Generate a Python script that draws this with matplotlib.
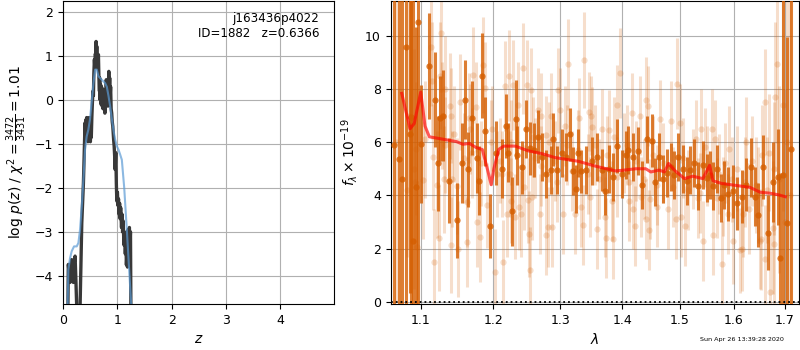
"""Redshift fit summary: p(z) panel and G141 spectrum with best-fit model."""

import matplotlib
matplotlib.use("Agg")
import matplotlib.pyplot as plt
from matplotlib.ticker import FixedLocator, FixedFormatter, NullLocator

# ---- p(z) panel -------------------------------------------------------------
pz_z = [0.085, 0.103, 0.118, 0.134, 0.150, 0.165, 0.180, 0.196, 0.212, 0.227,
        0.242, 0.257, 0.270, 0.320, 0.350, 0.380, 0.410, 0.418, 0.425, 0.433,
        0.440, 0.448, 0.455, 0.463, 0.470, 0.478, 0.485, 0.493, 0.500, 0.508,
        0.515, 0.525, 0.535, 0.545, 0.555, 0.564, 0.572, 0.582, 0.590, 0.600,
        0.607, 0.613, 0.620, 0.626, 0.633, 0.640, 0.648, 0.656, 0.665, 0.675,
        0.680, 0.687, 0.695, 0.705, 0.712, 0.724, 0.732, 0.740, 0.748, 0.757,
        0.766, 0.775, 0.782, 0.790, 0.800, 0.810, 0.820, 0.830, 0.838, 0.847,
        0.855, 0.863, 0.871, 0.880, 0.890, 0.900, 0.910, 0.920, 0.935, 0.945,
        0.955, 0.963, 0.975, 0.985, 0.994, 1.005, 1.015, 1.025, 1.035, 1.045,
        1.055, 1.065, 1.080, 1.090, 1.100, 1.110, 1.125, 1.135, 1.150, 1.160,
        1.170, 1.180, 1.190, 1.200, 1.215, 1.225, 1.235, 1.245, 1.252, 1.270]
pz_logp = [-6.0, -3.74, -3.95, -4.15, -3.75, -3.63, -3.90, -4.15, -3.70, -3.55,
           -4.10, -4.70, -6.0, -4.64, -2.80, -1.90, -0.52, -0.90, -0.45, -0.75,
           -0.40, -0.85, -0.50, -0.95, -0.60, -0.90, -0.40, -0.75, -0.50, -0.95,
           -0.70, -0.85, -0.40, -0.07, 0.20, 0.10, 0.60, 0.92, 0.75, 1.05,
           0.90, 1.33, 1.00, 1.22, 0.85, 1.00, 0.70, 1.03, 0.50, 0.20,
           0.50, 0.00, 0.35, -0.10, 0.30, -0.14, 0.25, -0.20, 0.23, -0.15,
           0.10, -0.30, 0.20, -0.10, 0.46, 0.00, 0.40, -0.14, 0.30, 0.65,
           0.20, 0.50, 0.08, 0.30, -0.20, -0.30, -0.50, -0.60, -0.90, -1.05,
           -1.30, -1.58, -1.20, -1.90, -2.30, -2.10, -2.40, -2.25, -2.60, -2.35,
           -2.70, -2.45, -2.90, -2.60, -3.00, -2.75, -3.30, -3.00, -3.50, -3.20,
           -3.75, -3.50, -3.80, -2.95, -3.10, -2.90, -3.30, -3.00, -4.64, -6.0]

prior_z = [0.090, 0.103, 0.134, 0.165, 0.208, 0.257, 0.288, 0.318, 0.350, 0.380,
           0.410, 0.440, 0.470, 0.500, 0.530, 0.564, 0.595, 0.626, 0.656, 0.687,
           0.717, 0.748, 0.780, 0.810, 0.840, 0.871, 0.900, 0.932, 0.963, 0.994,
           1.025, 1.055, 1.086, 1.130, 1.180, 1.227, 1.270]
prior_logp = [-4.70, -3.86, -3.60, -3.44, -3.33, -3.33, -3.25, -2.95, -2.42, -1.81,
              -1.13, -0.83, -0.68, -0.45, -0.07, 0.38, 0.69, 0.69, 0.54, 0.50,
              0.46, 0.42, 0.38, 0.30, 0.10, -0.14, -0.41, -0.68, -0.90, -1.05,
              -1.13, -1.24, -1.36, -2.00, -3.00, -4.00, -4.90]

# ---- spectrum panel ---------------------------------------------------------
wave = [1.0658, 1.0722, 1.0761, 1.0804, 1.0860, 1.0868, 1.0899, 1.0938, 1.0961,
        1.1000, 1.1110, 1.1190, 1.1234, 1.1257, 1.1301, 1.1383, 1.1493, 1.1553,
        1.1599, 1.1645, 1.1692, 1.1762, 1.1799, 1.1841, 1.1879, 1.1950, 1.2033,
        1.2120, 1.2178, 1.2216, 1.2274, 1.2324, 1.2348, 1.2413, 1.2477, 1.2537,
        1.2597, 1.2662, 1.2714, 1.2779, 1.2851, 1.2891, 1.2953, 1.3021, 1.3083,
        1.3151, 1.3193, 1.3241, 1.3282, 1.3325, 1.3405, 1.3497, 1.3578, 1.3659,
        1.3713, 1.3784, 1.3850, 1.3916, 1.3990, 1.4062, 1.4101, 1.4186, 1.4261,
        1.4329, 1.4416, 1.4503, 1.4560, 1.4630, 1.4695, 1.4766, 1.4836, 1.4901,
        1.4972, 1.5051, 1.5124, 1.5184, 1.5262, 1.5335, 1.5416, 1.5490, 1.5552,
        1.5613, 1.5688, 1.5758, 1.5820, 1.5896, 1.5980, 1.6068, 1.6153, 1.6236,
        1.6328, 1.6413, 1.6478, 1.6577, 1.6677, 1.6777, 1.6878, 1.6913, 1.6967,
        1.7061, 1.7137]
flux = [5.88, 5.38, 4.63, 9.58, 6.32, 6.95, 2.30, 4.32, 10.50,
        5.93, 8.86, 7.60, 5.20, 6.90, 7.00, 4.55, 3.06, 5.20,
        7.60, 4.98, 6.90, 5.40, 4.55, 8.50, 6.40, 2.85, 5.60,
        5.00, 6.60, 5.60, 3.40, 6.85, 5.50, 5.05, 6.50, 5.77,
        5.70, 6.20, 5.45, 4.80, 4.95, 6.10, 4.95, 5.60, 5.45,
        6.30, 4.90, 4.25, 5.60, 4.90, 4.95, 5.30, 5.45, 4.95,
        4.15, 5.00, 4.70, 5.85, 4.80, 5.50, 5.70, 5.45, 5.65,
        4.40, 6.10, 6.05, 4.50, 5.45, 4.60, 4.85, 5.05, 4.75,
        5.45, 5.00, 4.55, 4.95, 5.20, 4.35, 5.15, 4.65, 4.75,
        4.35, 5.00, 3.90, 4.40, 4.05, 4.15, 3.70, 3.95, 4.40,
        5.05, 3.95, 3.25, 5.05, 2.60, 4.50, 4.70, 1.63, 4.75,
        2.96, 5.73]
flux_err = [20, 20, 20, 20, 6.0, 20, 20, 6.0, 20,
            2.2, 2.0, 1.8, 1.8, 1.6, 1.7, 1.6, 1.4, 1.5,
            1.5, 1.4, 1.4, 1.3, 1.3, 1.6, 1.3, 1.2, 1.2,
            1.1, 1.2, 1.1, 1.3, 1.5, 1.1, 1.0, 1.1, 1.0,
            1.0, 1.0, 0.9, 0.9, 0.9, 1.0, 0.9, 0.9, 0.9,
            1.0, 0.9, 0.9, 0.9, 0.8, 0.9, 0.9, 0.9, 0.8,
            0.9, 0.9, 0.9, 1.0, 0.9, 0.9, 0.9, 0.9, 0.9,
            0.9, 0.9, 1.0, 0.9, 0.9, 0.9, 0.9, 0.9, 0.9,
            0.9, 0.9, 0.9, 0.9, 0.9, 0.9, 0.9, 0.9, 0.9,
            0.9, 0.9, 0.9, 0.9, 1.0, 1.0, 1.0, 1.0, 1.0,
            1.1, 1.1, 1.2, 1.2, 1.4, 1.5, 1.8, 3.2, 20,
            7.0, 20]

# unbinned (faint) points
wave_raw = [1.0680, 1.0823, 1.0850, 1.0910, 1.0921, 1.0942, 1.0955, 1.1031, 1.1050,
            1.1141, 1.1150, 1.1160, 1.1170, 1.1222, 1.1240, 1.1254, 1.1276, 1.1290,
            1.1312, 1.1320, 1.1330, 1.1389, 1.1400, 1.1406, 1.1419, 1.1450, 1.1490,
            1.1505, 1.1536, 1.1580, 1.1620, 1.1624, 1.1657, 1.1668, 1.1700, 1.1714,
            1.1746, 1.1760, 1.1806, 1.1820, 1.1853, 1.1885, 1.1908, 1.1960, 1.1978,
            1.2024, 1.2048, 1.2100, 1.2119, 1.2142, 1.2166, 1.2190, 1.2227, 1.2237,
            1.2250, 1.2261, 1.2284, 1.2308, 1.2355, 1.2379, 1.2403, 1.2426, 1.2450,
            1.2497, 1.2505, 1.2521, 1.2530, 1.2545, 1.2568, 1.2580, 1.2616, 1.2663,
            1.2687, 1.2700, 1.2710, 1.2781, 1.2785, 1.2805, 1.2830, 1.2852, 1.2867,
            1.2920, 1.2941, 1.2966, 1.2990, 1.3044, 1.3070, 1.3100, 1.3125, 1.3180,
            1.3223, 1.3270, 1.3289, 1.3331, 1.3354, 1.3380, 1.3430, 1.3461, 1.3475,
            1.3494, 1.3505, 1.3550, 1.3587, 1.3620, 1.3668, 1.3712, 1.3735, 1.3750,
            1.3787, 1.3831, 1.3847, 1.3859, 1.3913, 1.3920, 1.3967, 1.4030, 1.4082,
            1.4112, 1.4120, 1.4170, 1.4185, 1.4217, 1.4240, 1.4293, 1.4323, 1.4370,
            1.4400, 1.4410, 1.4439, 1.4456, 1.4468, 1.4520, 1.4586, 1.4600, 1.4644,
            1.4700, 1.4789, 1.4837, 1.4880, 1.4937, 1.4954, 1.4995, 1.5026, 1.5050,
            1.5086, 1.5150, 1.5240, 1.5300, 1.5329, 1.5360, 1.5391, 1.5420, 1.5452,
            1.5500, 1.5585, 1.5603, 1.5635, 1.5683, 1.5720, 1.5770, 1.5793, 1.5840,
            1.5885, 1.5914, 1.5960, 1.5976, 1.6060, 1.6118, 1.6150, 1.6172, 1.6220,
            1.6237, 1.6302, 1.6350, 1.6430, 1.6467, 1.6500, 1.6533, 1.6550, 1.6598,
            1.6610, 1.6640, 1.6696, 1.6710, 1.6764, 1.6780, 1.6795, 1.6815, 1.6842,
            1.6880, 1.6961, 1.7000, 1.7050, 1.7120]
flux_raw = [6.00, 4.20, 7.00, 5.00, 4.50, 5.75, 2.05, 4.57, 6.10,
            9.57, 8.30, 5.45, 1.50, 4.40, 2.40, 8.50, 10.10, 7.00,
            4.60, 5.90, 8.00, 7.35, 2.15, 7.00, 4.60, 6.30, 4.35,
            2.00, 7.50, 5.40, 3.75, 2.25, 6.90, 6.50, 5.60, 8.52,
            7.32, 3.00, 2.43, 5.20, 8.90, 8.05, 3.62, 6.00, 6.50,
            1.13, 4.80, 5.30, 4.80, 1.48, 8.10, 3.30, 8.50, 4.80,
            6.00, 3.80, 8.15, 3.20, 7.40, 3.55, 3.30, 8.77, 4.30,
            8.15, 3.82, 2.55, 1.20, 7.95, 3.94, 6.20, 5.40, 7.20,
            3.30, 5.10, 7.00, 6.25, 2.50, 2.80, 6.00, 7.00, 2.80,
            5.30, 4.50, 7.95, 7.20, 3.30, 6.60, 5.90, 8.92, 4.90,
            3.30, 5.70, 6.90, 3.55, 2.90, 9.10, 4.80, 7.15, 3.93,
            7.00, 6.57, 5.90, 2.75, 4.60, 6.50, 3.20, 2.40, 5.50,
            6.45, 3.80, 2.35, 6.20, 7.40, 4.70, 8.60, 5.60, 5.90,
            3.80, 4.50, 7.10, 3.50, 2.85, 5.30, 7.00, 3.93, 4.60,
            3.10, 7.60, 7.35, 2.70, 3.85, 5.50, 3.55, 4.40, 6.85,
            5.20, 3.50, 6.80, 4.30, 3.10, 8.20, 6.70, 3.20, 5.40,
            2.85, 4.20, 5.00, 6.10, 3.91, 4.10, 6.50, 2.30, 5.80,
            5.10, 6.50, 2.50, 6.10, 3.90, 4.80, 1.43, 3.96, 5.20,
            3.30, 5.75, 4.60, 2.28, 5.00, 1.93, 2.00, 3.30, 4.50,
            6.00, 3.50, 5.30, 4.40, 4.00, 2.28, 2.35, 5.50, 7.50,
            1.62, 4.20, 5.60, 0.36, 2.78, 5.00, 2.19, 7.70, 8.95,
            4.60, 7.40, 3.00, 6.00, 4.00]
flux_raw_err = [6.0, 2.5, 5.0, 4.5, 2.5, 2.5, 2.5, 2.2, 2.2,
                2.2, 2.2, 2.0, 2.0, 2.0, 2.0, 2.0, 2.2, 2.0,
                2.0, 1.8, 2.0, 2.0, 1.8, 1.8, 1.8, 1.8, 1.8,
                1.8, 1.8, 1.7, 1.7, 1.7, 1.7, 1.7, 1.7, 1.8,
                1.7, 1.7, 1.7, 1.6, 1.8, 1.7, 1.6, 1.6, 1.6,
                1.6, 1.6, 1.6, 1.6, 1.6, 1.7, 1.6, 1.7, 1.6,
                1.6, 1.6, 1.7, 1.6, 1.6, 1.6, 1.6, 1.7, 1.6,
                1.7, 1.6, 1.6, 1.6, 1.6, 1.6, 1.5, 1.5, 1.6,
                1.5, 1.5, 1.6, 1.5, 1.5, 1.5, 1.5, 1.6, 1.5,
                1.5, 1.5, 1.6, 1.6, 1.5, 1.5, 1.5, 1.7, 1.5,
                1.5, 1.5, 1.5, 1.5, 1.5, 1.8, 1.5, 1.5, 1.5,
                1.5, 1.5, 1.5, 1.5, 1.5, 1.5, 1.5, 1.5, 1.5,
                1.5, 1.5, 1.5, 1.5, 1.5, 1.5, 1.7, 1.5, 1.5,
                1.5, 1.5, 1.5, 1.5, 1.5, 1.5, 1.5, 1.5, 1.5,
                1.5, 1.6, 1.5, 1.5, 1.5, 1.5, 1.5, 1.5, 1.5,
                1.5, 1.5, 1.5, 1.5, 1.5, 1.7, 1.5, 1.5, 1.5,
                1.5, 1.5, 1.5, 1.5, 1.5, 1.5, 1.5, 1.5, 1.5,
                1.5, 1.5, 1.5, 1.5, 1.5, 1.5, 1.6, 1.5, 1.5,
                1.5, 1.6, 1.6, 1.6, 1.6, 1.6, 1.6, 1.6, 1.7,
                1.7, 1.7, 1.7, 1.8, 1.8, 1.8, 1.9, 1.9, 2.0,
                2.0, 2.0, 2.2, 2.2, 2.5, 2.5, 2.5, 2.8, 3.0,
                3.5, 4.0, 5.0, 6.0, 8.0]

model_wave = [1.0753, 1.0860, 1.0915, 1.1000, 1.1057, 1.1114, 1.1257, 1.1480,
              1.1569, 1.1660, 1.1752, 1.1842, 1.1912, 1.1968, 1.2006, 1.2077,
              1.2149, 1.2319, 1.2514, 1.2714, 1.2918, 1.3020, 1.3284, 1.3554,
              1.3886, 1.3998, 1.4227, 1.4400, 1.4487, 1.4633, 1.4722, 1.4798,
              1.4900, 1.5080, 1.5233, 1.5418, 1.5543, 1.5605, 1.5764, 1.6053,
              1.6313, 1.6511, 1.6712, 1.6880, 1.7017]
model_flux = [7.83, 6.50, 6.70, 7.88, 6.60, 6.20, 6.13, 6.02,
              5.92, 5.95, 5.80, 5.72, 5.00, 4.40, 5.00, 5.73,
              5.85, 5.85, 5.67, 5.57, 5.42, 5.38, 5.28, 5.10,
              4.92, 4.94, 5.00, 5.00, 4.88, 4.95, 4.88, 5.20,
              4.95, 4.63, 4.72, 4.63, 5.13, 4.55, 4.45, 4.37,
              4.30, 4.12, 4.08, 4.02, 3.95]

WAVE_TICKS = [1.1, 1.2, 1.3, 1.4, 1.5, 1.6, 1.7]
GRISM_COLOR = "#d55e00"

plt.rcParams.update({"font.size": 9, "xtick.labelsize": 9, "ytick.labelsize": 9})

fig = plt.figure(figsize=(8, 3.5), dpi=100)

# left: p(z)
ax = fig.add_axes([0.0784, 0.1314, 0.3395, 0.8657])
ax.plot(pz_z, pz_logp, color="0.22", lw=2.4, zorder=3)
ax.plot(prior_z, prior_logp, color="#5b9bd5", alpha=0.7, lw=1.5, zorder=4)
ax.set_xlim(0, 4.99)
ax.set_ylim(-4.64, 2.25)
ax.set_xticks([0, 1, 2, 3, 4])
ax.set_yticks([-4, -3, -2, -1, 0, 1, 2])
ax.grid(True, color="#b0b0b0", lw=0.8)
ax.set_axisbelow(True)
ax.set_xlabel("$z$", fontsize=10)
ax.set_ylabel(r"log $p(z)$ / $\chi^2=\frac{3472}{3431}=1.01$", fontsize=10)
ax.text(0.945, 0.965, "j163436p4022\nID=1882   z=0.6366", transform=ax.transAxes,
        ha="right", va="top", fontsize=8.6, multialignment="right")

# right: spectrum
ax2 = fig.add_axes([0.4884, 0.1314, 0.5105, 0.8657])
ax2.errorbar(wave_raw, flux_raw, yerr=flux_raw_err, fmt="o", color=GRISM_COLOR,
             alpha=0.2, ms=4.5, elinewidth=2.2, mew=0, zorder=2)
ax2.errorbar(wave, flux, yerr=flux_err, fmt="o", color=GRISM_COLOR,
             alpha=0.8, ms=4.5, elinewidth=2.2, mew=0, zorder=3)
ax2.plot(model_wave, model_flux, color="r", alpha=0.65, lw=2.2, zorder=5)
ax2.set_xscale("log")
ax2.set_xlim(1.0612, 1.730)
ax2.set_ylim(-0.08, 11.3)
ax2.plot([1.0612, 1.730], [0, 0], color="k", ls=":", lw=1.3, zorder=6)
ax2.xaxis.set_major_locator(FixedLocator(WAVE_TICKS))
ax2.xaxis.set_major_formatter(FixedFormatter([f"{t:.1f}" for t in WAVE_TICKS]))
ax2.xaxis.set_minor_locator(NullLocator())
ax2.set_yticks([0, 2, 4, 6, 8, 10])
ax2.grid(True, color="#b0b0b0", lw=0.8)
ax2.set_axisbelow(True)
ax2.set_xlabel(r"$\lambda$", fontsize=10)
ax2.set_ylabel(r"$f_\lambda\times10^{-19}$", fontsize=10)

fig.text(0.9275, 0.030, "Sun Apr 26 13:39:28 2020", ha="center", va="center", fontsize=4.6)

fig.savefig("out.png", dpi=100)
